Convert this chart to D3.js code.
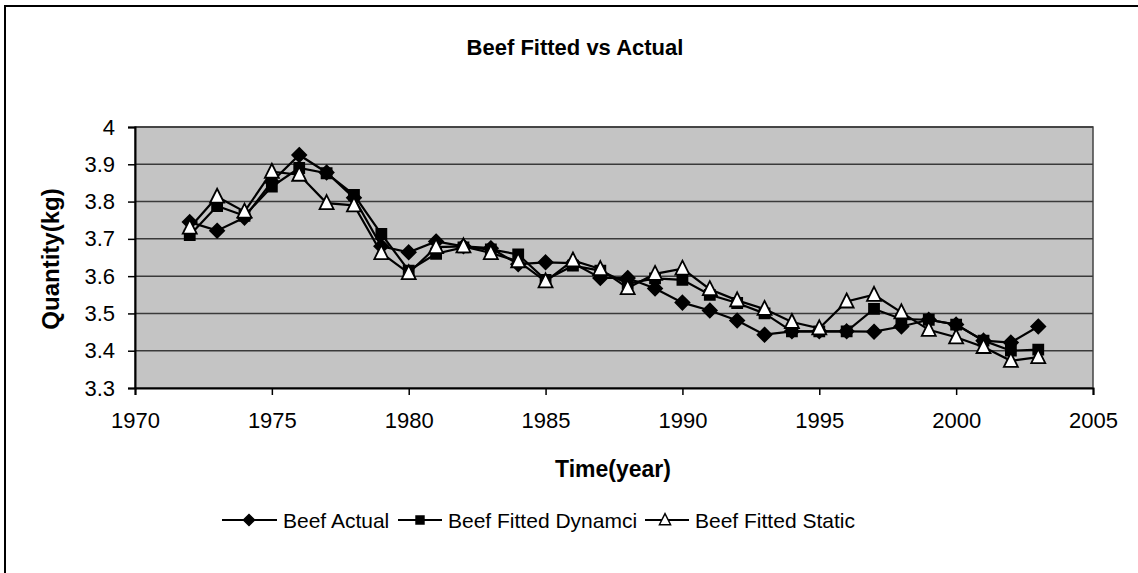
<!DOCTYPE html>
<html><head><meta charset="utf-8">
<script src="https://cdn.jsdelivr.net/npm/d3@7"></script>
<style>body{margin:0;background:#fff}svg{display:block}text{font-family:"Liberation Sans",Arial,sans-serif;fill:#000}</style>
</head><body><svg id="c" width="1138" height="573"></svg>
<script>
const years = d3.range(1972, 2004);
const beefActual = [3.745,3.722,3.757,3.853,3.925,3.878,3.810,3.680,3.664,3.693,3.680,3.675,3.632,3.637,3.635,3.595,3.595,3.567,3.529,3.508,3.481,3.443,3.452,3.452,3.452,3.451,3.465,3.483,3.470,3.427,3.422,3.465];
const beefDynamic = [3.710,3.788,3.762,3.840,3.890,3.876,3.818,3.713,3.615,3.660,3.677,3.672,3.658,3.590,3.628,3.615,3.580,3.594,3.590,3.550,3.528,3.500,3.452,3.452,3.452,3.512,3.485,3.483,3.470,3.427,3.400,3.403];
const beefStatic = [3.730,3.813,3.773,3.880,3.872,3.796,3.790,3.662,3.608,3.678,3.680,3.662,3.640,3.586,3.642,3.619,3.568,3.606,3.620,3.565,3.535,3.512,3.477,3.460,3.532,3.550,3.503,3.456,3.436,3.410,3.373,3.383];
const seriesNames = ["Beef Actual","Beef Fitted Dynamci","Beef Fitted Static"];
const xTicks = [1970,1975,1980,1985,1990,1995,2000,2005];
const yTicks = [3.3,3.4,3.5,3.6,3.7,3.8,3.9,4];
const titleText = "Beef Fitted vs Actual";
const xTitle = "Time(year)";
const yTitle = "Quantity(kg)";

const svg = d3.select("#c");
const P = {l:135, r:1093, t:127, b:388};
const x = d3.scaleLinear().domain([1970,2005]).range([P.l,P.r]);
const y = d3.scaleLinear().domain([3.3,4]).range([P.b,P.t]);

// outer border
svg.append("rect").attr("x",5).attr("y",6).attr("width",1150).attr("height",600)
  .attr("fill","none").attr("stroke","#000").attr("stroke-width",2);

// plot background
svg.append("rect").attr("x",P.l).attr("y",P.t).attr("width",P.r-P.l).attr("height",P.b-P.t)
  .attr("fill","#c4c4c4").attr("stroke","#444").attr("stroke-width",1.5);

// gridlines
svg.append("g").selectAll("line").data(yTicks.filter(v=>v>3.31)).join("line")
  .attr("x1",P.l).attr("x2",P.r).attr("y1",d=>y(d)).attr("y2",d=>y(d))
  .attr("stroke","#3a3a3a").attr("stroke-width",1.5);

// axes
const ya = svg.append("g").attr("transform",`translate(${P.l},0)`)
  .call(d3.axisLeft(y).tickValues(yTicks).tickFormat(d=>d3.format("")(d)).tickSize(7).tickPadding(13));
const xa = svg.append("g").attr("transform",`translate(0,${P.b})`)
  .call(d3.axisBottom(x).tickValues(xTicks).tickFormat(d3.format("d")).tickSize(7).tickPadding(17));
[ya,xa].forEach(g=>{
  g.select(".domain").attr("stroke","#000").attr("stroke-width",2);
  g.selectAll(".tick line").attr("stroke","#000").attr("stroke-width",1.5);
  g.selectAll(".tick text").attr("font-size",22).attr("font-family","Liberation Sans, Arial, sans-serif").attr("fill","#000");
});

// series
const data = [beefActual, beefDynamic, beefStatic];
const line = d3.line().x((d,i)=>x(years[i])).y(d=>y(d));
const diamond = "M0,-7L7,0L0,7L-7,0Z";
const square = "M-5,-5H5V5H-5Z";
const tri = "M0,-8L7,6H-7Z";
const markers = [{p:diamond,f:"#000"},{p:square,f:"#000"},{p:tri,f:"#fff"}];
data.forEach((vals,k)=>{
  svg.append("path").datum(vals).attr("d",line).attr("fill","none").attr("stroke","#000").attr("stroke-width",2.2);
  svg.append("g").selectAll("path").data(vals).join("path")
    .attr("transform",(d,i)=>`translate(${x(years[i])},${y(d)})`)
    .attr("d",markers[k].p).attr("fill",markers[k].f).attr("stroke","#000").attr("stroke-width",1.8);
});

// titles
svg.append("text").attr("x",575).attr("y",55).attr("text-anchor","middle")
  .attr("font-size",22).attr("font-weight","bold").text(titleText);
svg.append("text").attr("x",613).attr("y",477).attr("text-anchor","middle")
  .attr("font-size",23).attr("font-weight","bold").text(xTitle);
svg.append("text").attr("transform","translate(59,259) rotate(-90)").attr("text-anchor","middle")
  .attr("font-size",24).attr("font-weight","bold").text(yTitle);

// legend
const legX = [222, 398, 645];
const leg = svg.append("g");
seriesNames.forEach((n,k)=>{
  const w = k===0?55:44;
  const g = leg.append("g").attr("transform",`translate(${legX[k]},520)`);
  g.append("line").attr("x1",0).attr("x2",w).attr("y1",0).attr("y2",0).attr("stroke","#000").attr("stroke-width",2);
  const mx = k===0?27:(k===1?22:20);
  g.append("path").attr("transform",`translate(${mx},0) scale(0.8)`).attr("d",markers[k].p)
    .attr("fill",markers[k].f).attr("stroke","#000").attr("stroke-width",1.8);
  g.append("text").attr("x",w+6).attr("y",8).attr("font-size",21).text(n);
});
</script></body></html>
